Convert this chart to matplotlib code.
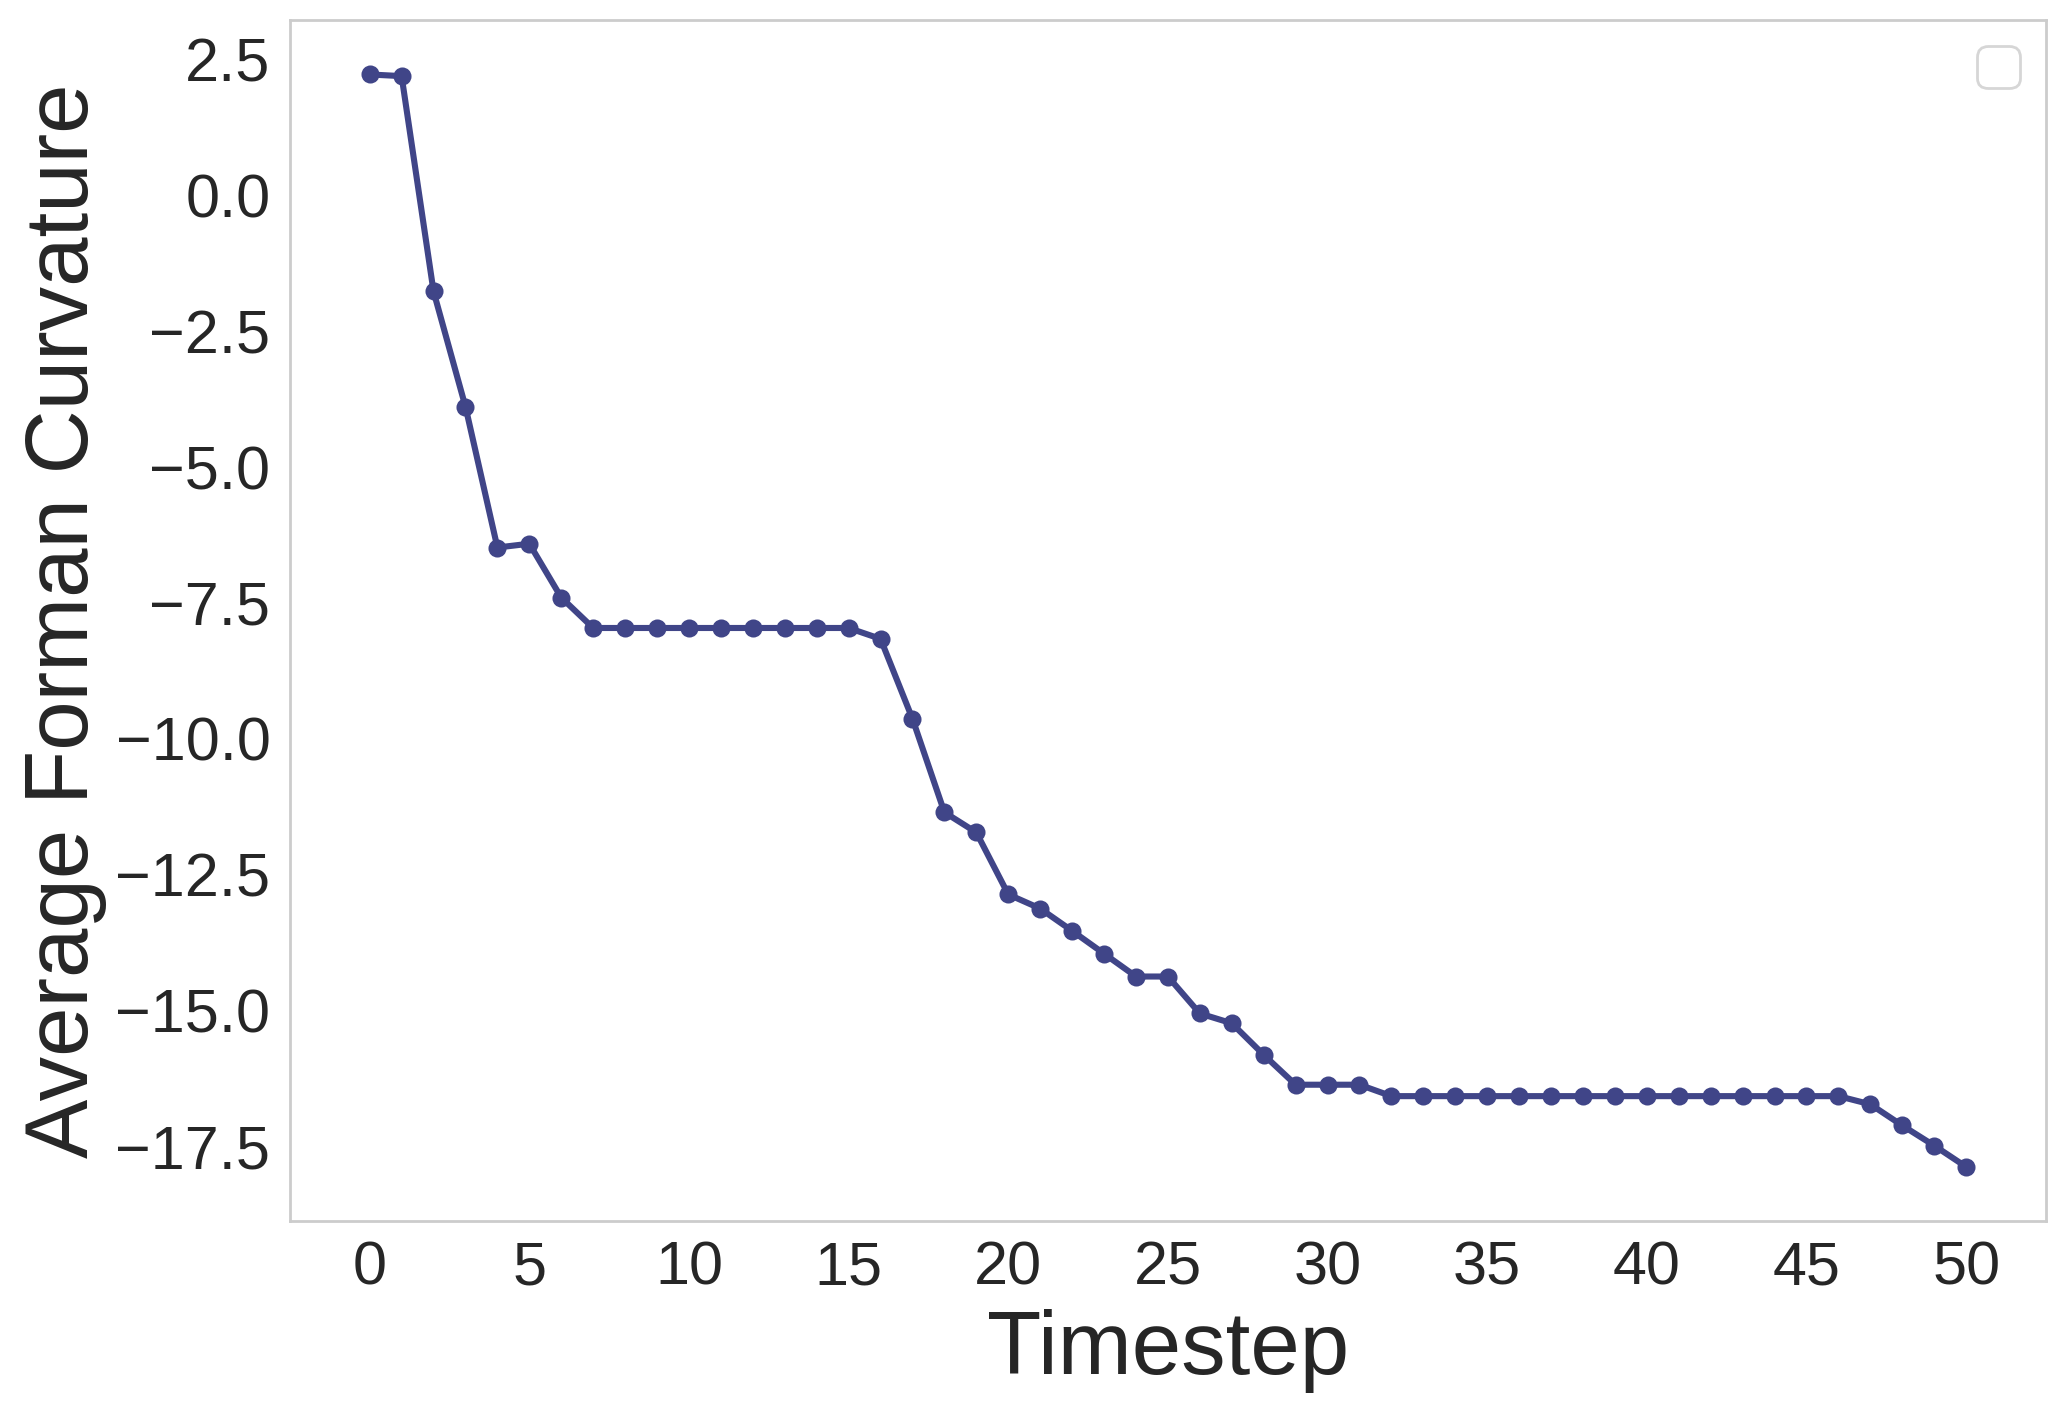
import matplotlib
matplotlib.use("Agg")
import matplotlib.pyplot as plt
import seaborn as sns

timesteps = list(range(51))
avg_forman = [
    2.22, 2.19, -1.77, -3.89, -6.48, -6.41, -7.40, -7.96, -7.96, -7.96,
    -7.96, -7.96, -7.96, -7.96, -7.96, -7.96, -8.16, -9.63, -11.35, -11.72,
    -12.86, -13.12, -13.53, -13.95, -14.37, -14.37, -15.05, -15.23, -15.81, -16.36,
    -16.36, -16.36, -16.57, -16.57, -16.57, -16.57, -16.57, -16.57, -16.57, -16.57,
    -16.57, -16.57, -16.57, -16.57, -16.57, -16.57, -16.57, -16.72, -17.11, -17.48,
    -17.87,
]
xlabel = "Timestep"
ylabel = "Average Forman Curvature"
line_color = "#404588"

sns.set_style("whitegrid")
plt.rcParams["font.family"] = ["Liberation Sans", "DejaVu Sans"]

fig = plt.figure(figsize=(10.33, 7.04), dpi=200)
ax = fig.add_axes([0.1403, 0.1325, 0.8500, 0.8534])
ax.plot(timesteps, avg_forman, color=line_color, linewidth=2.2,
        marker="o", markersize=5.5)
ax.grid(False)
for s in ax.spines.values():
    s.set_edgecolor("#cccccc")
    s.set_linewidth(1.0)
ax.set_xticks(range(0, 51, 5))
ax.tick_params(axis="both", labelsize=22, length=0, pad=7, colors="#262626")
ax.set_xlabel(xlabel, fontsize=32, color="#262626", labelpad=4)
ax.set_ylabel(ylabel, fontsize=32, color="#262626", labelpad=3)
ax.legend(loc="upper right", fontsize=19)

fig.savefig("out.png", dpi=200)
